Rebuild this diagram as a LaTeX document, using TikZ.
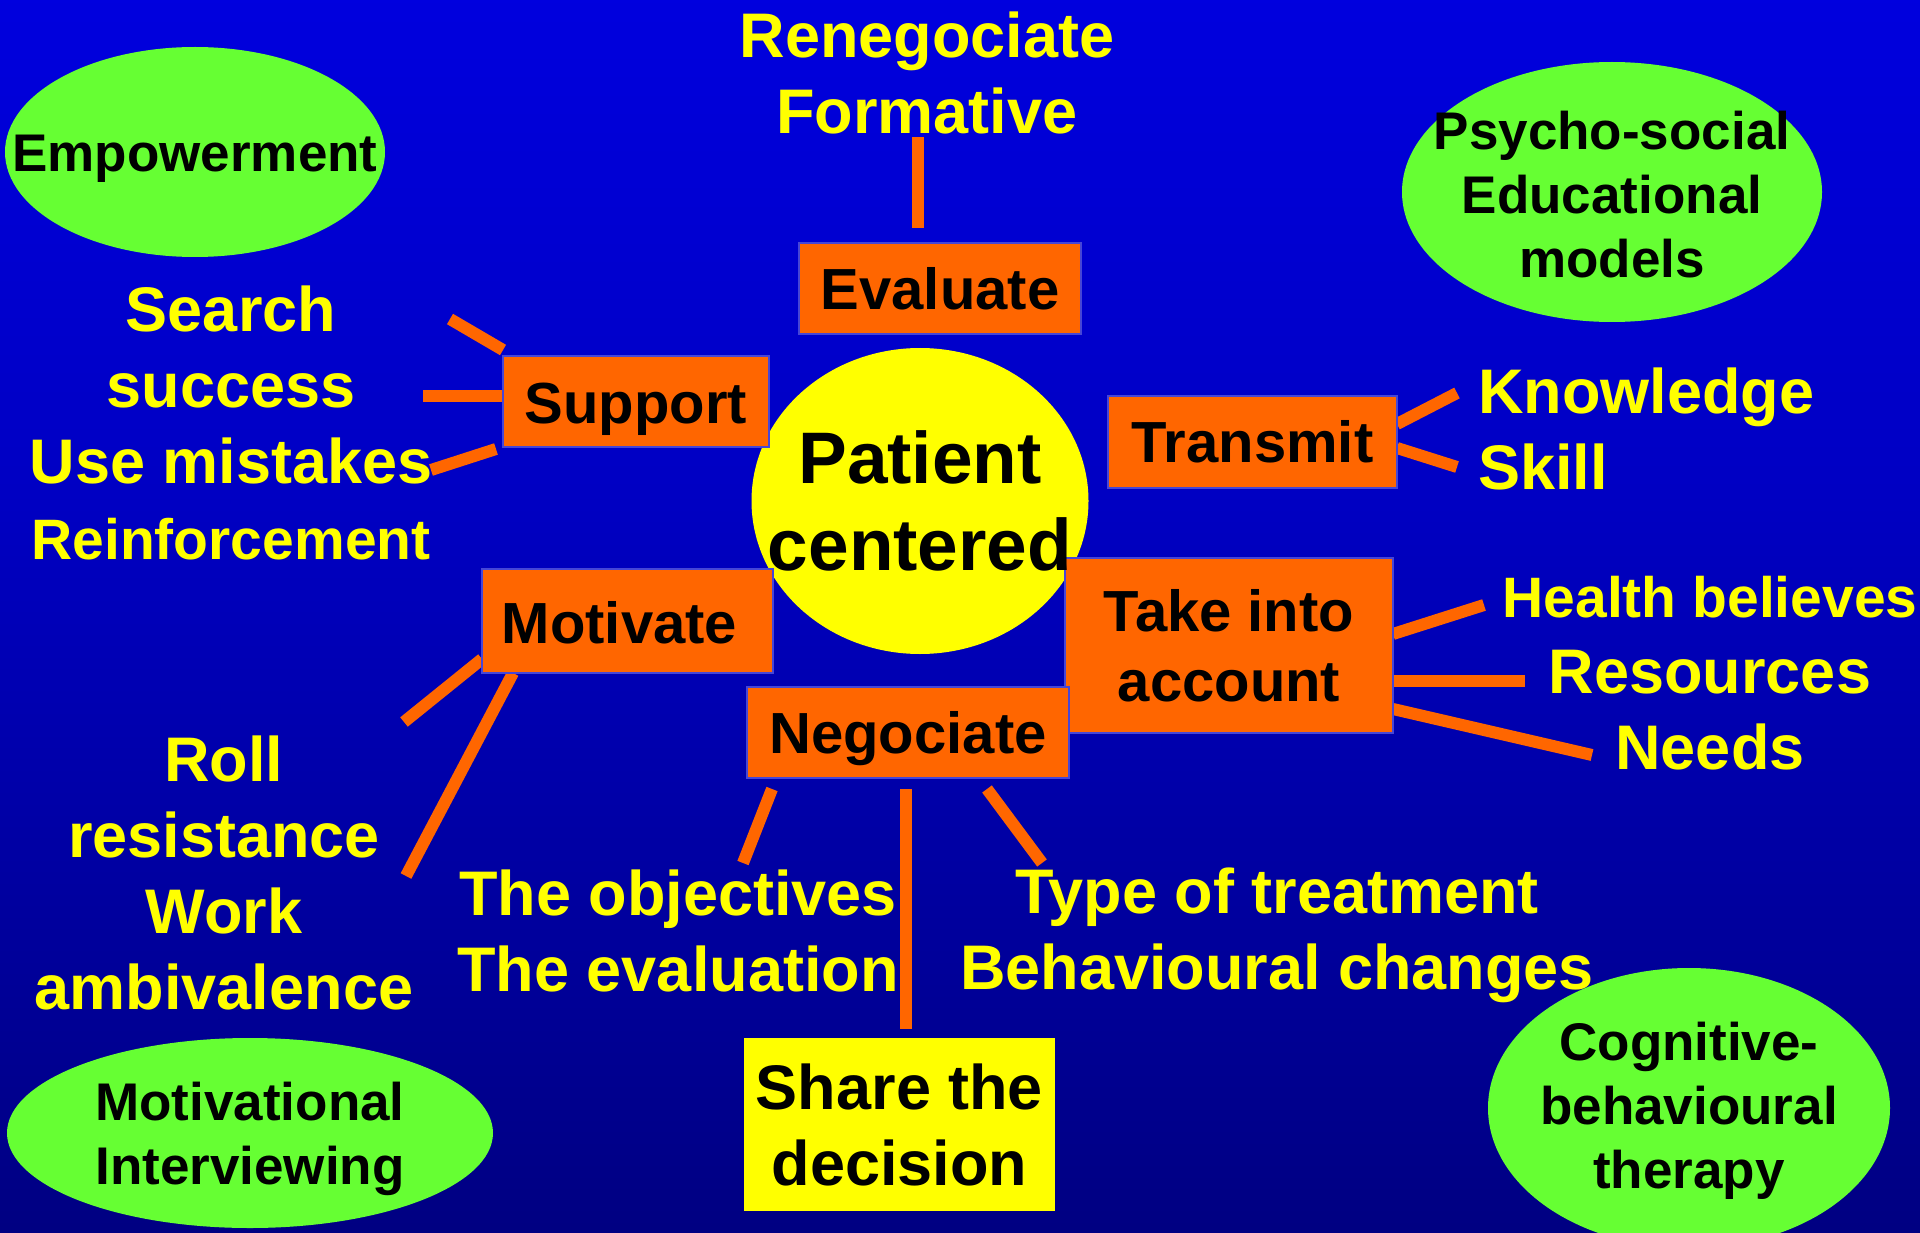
\documentclass[tikz,border=0pt]{standalone}
\usepackage{fontspec}
\setmainfont{Liberation Sans}
\usetikzlibrary{shapes.geometric}
\definecolor{orng}{RGB}{255,102,0}
\definecolor{yel}{RGB}{255,255,0}
\definecolor{grn}{RGB}{102,255,51}
\definecolor{bdr}{RGB}{70,70,215}
\definecolor{bgtop}{RGB}{0,0,255}
\definecolor{bgmid}{RGB}{0,0,195}
\definecolor{bgbot}{RGB}{0,0,75}
\pgfdeclareverticalshading{bgshade}{100bp}{color(0bp)=(bgbot); color(55bp)=(bgmid); color(100bp)=(bgtop)}
\newcommand\yelfont{\fontsize{63}{76}\selectfont\bfseries}
\newcommand\yelsmall{\fontsize{57}{70}\selectfont\bfseries}
\newcommand\boxfont{\fontsize{58}{70}\selectfont\bfseries}
\newcommand\grnfont{\fontsize{53}{64}\selectfont\bfseries}
\newcommand\patfont{\fontsize{73}{87}\selectfont\bfseries}
\newcommand\lowertxt[2]{\raisebox{-#1}[\height][\depth]{#2}}
\tikzset{
  obox/.style={rectangle, fill=orng, draw=bdr, line width=2pt, inner sep=0pt, font=\boxfont, align=center},
  ybox/.style={rectangle, fill=yel, inner sep=0pt, font=\yelfont, align=center},
  ytext/.style={text=yel, inner sep=0pt, font=\yelfont, align=center},
  gell/.style={ellipse, fill=grn, inner sep=0pt},
  gtext/.style={text=black, inner sep=0pt, font=\grnfont, align=center},
  conn/.style={draw=orng, line width=12pt},
}
\begin{document}
\begin{tikzpicture}[x=1pt,y=-1pt]
\useasboundingbox (0,0) rectangle (1920,1233);
\shade[shading=bgshade] (0,0) rectangle (1920,1233);

% green ellipses
\node[gell, minimum width=380pt, minimum height=210pt] (empE) at (195,152) {};
\node[gtext] (empT) at (195,159) {Empowerment};
\node[gell, minimum width=420pt, minimum height=260pt] (psyE) at (1612,192) {};
\node[gtext] (psyT) at (1612,195) {Psycho-social\\Educational\\models};
\node[gell, minimum width=486pt, minimum height=190pt] (motE) at (250,1133) {};
\node[gtext] (motT) at (250,1139) {Motivational\\Interviewing};
\node[gell, minimum width=402pt, minimum height=280pt] (cogE) at (1689,1108) {};
\node[gtext] (cogT) at (1689,1111) {Cognitive-\\behavioural\\therapy};

% central circle
\node[ellipse, fill=yel, inner sep=0pt, minimum width=337pt, minimum height=306pt] (patE) at (920,501) {};

% yellow texts
\node[ytext] (reneg) at (927,73) {Renegociate\\Formative};
\node[ytext] (search) at (231,423) {Search\\success\\Use mistakes\\{\yelsmall Reinforcement}};
\node[ytext, anchor=west, align=left] (know) at (1478,429) {Knowledge\\Skill};
\node[ytext] (health) at (1710,673) {{\yelsmall Health believes}\\Resources\\Needs};
\node[ytext] (roll) at (224,873) {Roll\\resistance\\Work\\ambivalence};
\node[ytext] (obj) at (678,931) {The objectives\\The evaluation};
\node[ytext] (type) at (1277,935) {Type of treatment\\Behavioural changes};

% connector end points
\coordinate (r1) at (918,137); \coordinate (r2) at (918,228);
\coordinate (sa1) at (450,319); \coordinate (sa2) at (503,350);
\coordinate (sb1) at (423,396); \coordinate (sb2) at (503,396);
\coordinate (sc1) at (431,470); \coordinate (sc2) at (496,449);
\coordinate (ta1) at (1397,424); \coordinate (ta2) at (1457,393);
\coordinate (tb1) at (1397,448); \coordinate (tb2) at (1457,467);
\coordinate (ka1) at (1393,634); \coordinate (ka2) at (1484,605);
\coordinate (kb1) at (1393,681); \coordinate (kb2) at (1525,681);
\coordinate (kc1) at (1393,709); \coordinate (kc2) at (1592,755);
\coordinate (ma1) at (482,659); \coordinate (ma2) at (404,722);
\coordinate (mb1) at (513,673); \coordinate (mb2) at (406,876);
\coordinate (na1) at (772,789); \coordinate (na2) at (743,863);
\coordinate (nb1) at (906,789); \coordinate (nb2) at (906,1029);
\coordinate (nc1) at (987,789); \coordinate (nc2) at (1042,863);

\draw[conn] (r1) -- (r2);
\draw[conn] (sa1) -- (sa2);
\draw[conn] (sb1) -- (sb2);
\draw[conn] (sc1) -- (sc2);
\draw[conn] (ta1) -- (ta2);
\draw[conn] (tb1) -- (tb2);
\draw[conn] (ka1) -- (ka2);
\draw[conn] (kb1) -- (kb2);
\draw[conn] (kc1) -- (kc2);
\draw[conn] (ma1) -- (ma2);
\draw[conn] (mb1) -- (mb2);
\draw[conn] (na1) -- (na2);
\draw[conn] (nb1) -- (nb2);
\draw[conn] (nc1) -- (nc2);

% boxes
\node[obox, minimum width=282pt, minimum height=91pt] (eval) at (940,288.5) {Evaluate};
\node[obox, minimum width=266pt, minimum height=91pt] (supp) at (636,401.5) {\lowertxt{8pt}{Support}};
\node[obox, minimum width=289pt, minimum height=92pt] (trans) at (1252.5,442) {Transmit};
\node[obox, minimum width=328pt, minimum height=175pt] (take) at (1229,645.5) {Take into\\account};
\node[obox, minimum width=291pt, minimum height=104pt] (motiv) at (627.5,621) {\hspace*{-16pt}\lowertxt{2pt}{Motivate}};
\node[obox, minimum width=322pt, minimum height=91pt] (nego) at (908,732.5) {\lowertxt{6pt}{Negociate}};
\node[ybox, minimum width=311pt, minimum height=173pt] (share) at (899.5,1124.5) {Share the\\decision};

% central text on top
\node[text=black, inner sep=0pt, font=\patfont, align=center] (patT) at (920,501) {Patient\\centered};
\end{tikzpicture}
\end{document}
